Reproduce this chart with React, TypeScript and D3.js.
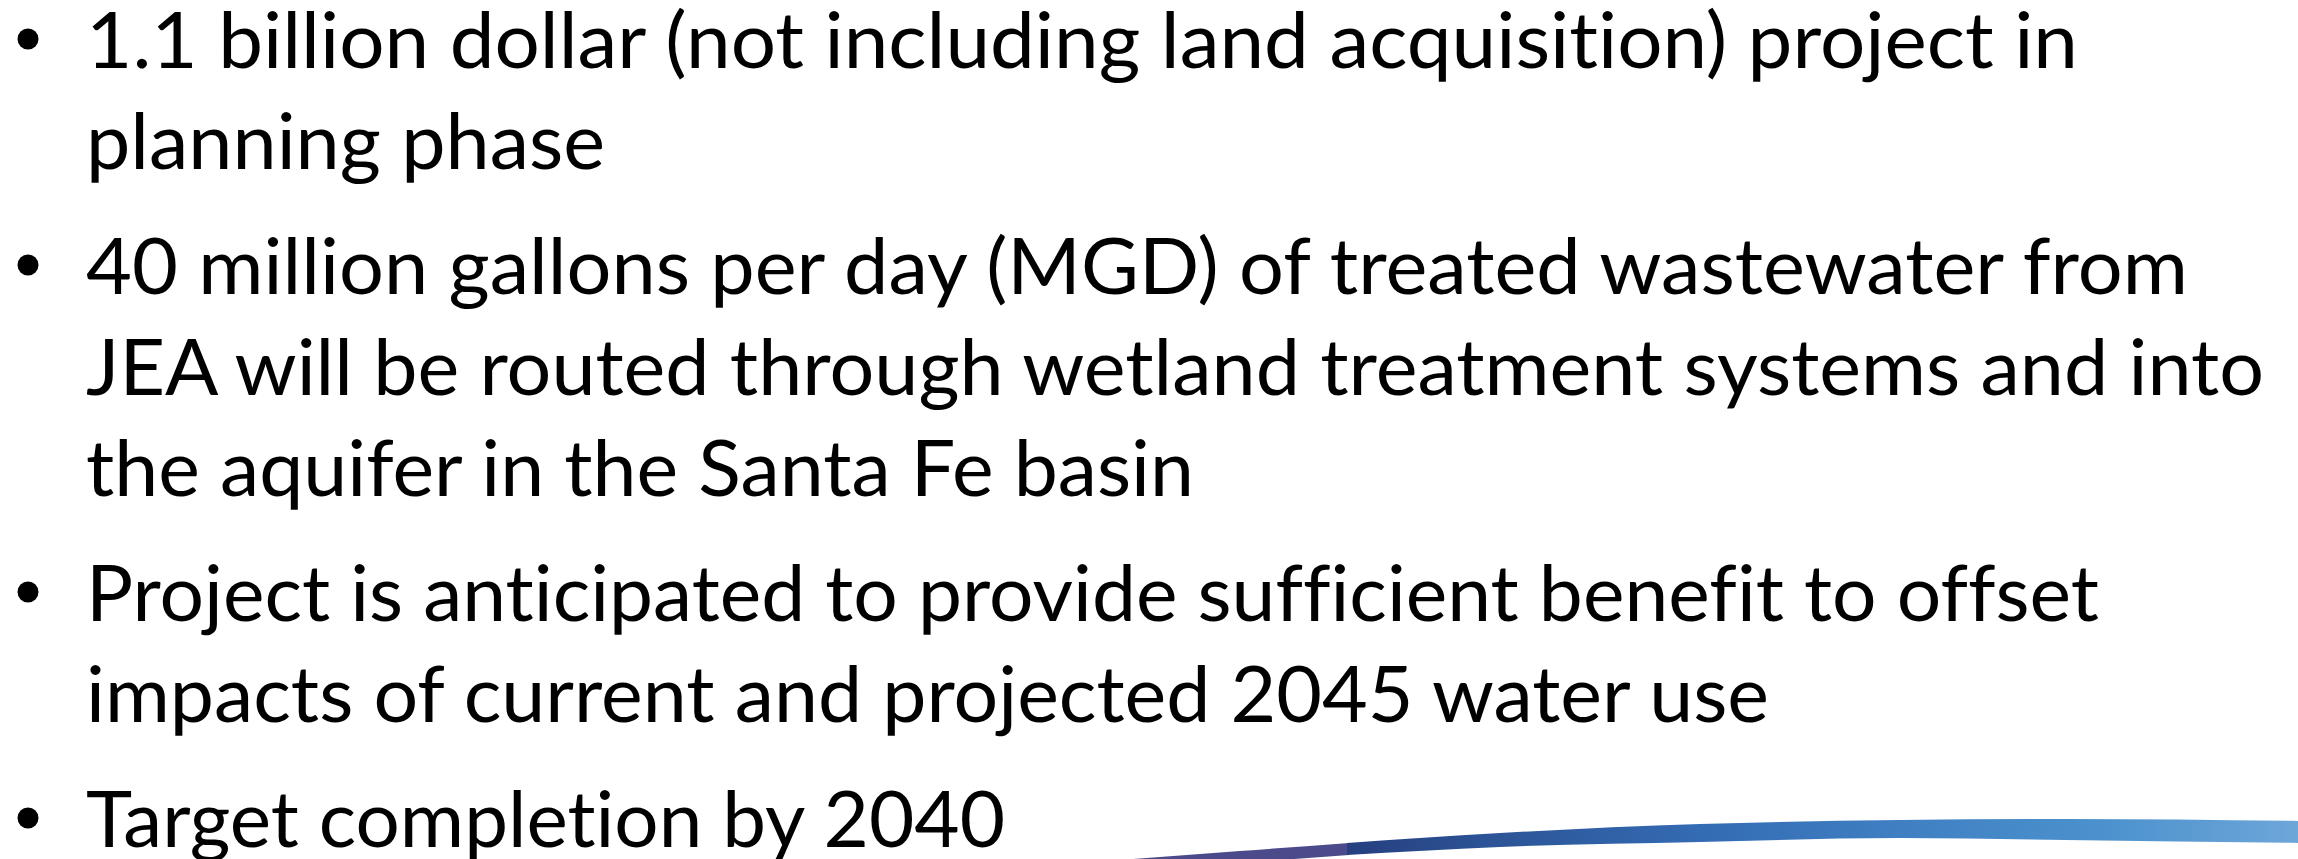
import * as d3 from "d3";

const W = 2298;
const H = 859;

// bullet paragraphs, one entry per wrapped line
const bullets: string[][] = [
  ["1.1 billion dollar (not including land acquisition) project in", "planning phase"],
  [
    "40 million gallons per day (MGD) of treated wastewater from",
    "JEA will be routed through wetland treatment systems and into",
    "the aquifer in the Santa Fe basin",
  ],
  ["Project is anticipated to provide sufficient benefit to offset", "impacts of current and projected 2045 water use"],
  ["Target completion by 2040"],
];
// right end of every line, in the order above
const lineEnds = [2078, 605, 2188, 2264, 1194, 2099, 1769, 1005];

// decorative swoosh at the bottom
const swooshX = [1347, 1500, 1700, 1900, 2065, 2298];
const swooshTop = [843, 833, 824, 820, 819, 821];
const swooshBottom = [855, 847, 842, 838, 840, 843];
const tipX = [1120, 1240, 1349];
const tipTop = [860, 851, 843];
const tipBottom = [872, 863, 855];

const gradStops = [
  [0, "#263f80"],
  [0.16, "#2c5597"],
  [0.37, "#346bb3"],
  [0.58, "#3f7fc2"],
  [0.8, "#4c92cd"],
  [1, "#6ea6d9"],
];

export default function App() {
  const textX = 86;
  const firstBaseline = 68;
  const lineStep = 101;
  const paraGap = 24;
  const fontSize = 77;

  const x = d3.scaleLinear([0, W], [0, W]);
  const y = d3.scaleLinear([0, H], [0, H]);

  const rows: { text: string; y: number; first: boolean }[] = [];
  let cy = firstBaseline;
  bullets.forEach((lines, i) => {
    if (i > 0) cy += paraGap;
    lines.forEach((t, j) => {
      rows.push({ text: t, y: cy, first: j === 0 });
      cy += lineStep;
    });
  });

  const band = (xs: number[], t: number[], b: number[]) =>
    d3
      .area<number>()
      .x((d) => x(d))
      .y0((_, i) => y(t[i]))
      .y1((_, i) => y(b[i]))
      .curve(d3.curveMonotoneX)(xs);

  return (
    <svg
      width={W}
      height={H}
      style={{ position: "absolute", left: 0, top: 0, background: "#fff" }}
    >
      <defs>
        <linearGradient id="swoosh" gradientUnits="userSpaceOnUse" x1={x(1347)} x2={x(W)} y1={0} y2={0}>
          {gradStops.map(([o, c]) => (
            <stop key={o as number} offset={o as number} stopColor={c as string} />
          ))}
        </linearGradient>
      </defs>
      <path d={band(tipX, tipTop, tipBottom) ?? ""} fill="#4b4a8b" />
      <path d={band(swooshX, swooshTop, swooshBottom) ?? ""} fill="url(#swoosh)" />
      <g
        fontFamily="Lato, 'Open Sans', sans-serif"
        fontSize={fontSize}
        fill="#000"
        style={{ fontVariantLigatures: "none", fontFeatureSettings: '"liga" 0' }}
      >
        {rows.map((r, i) => (
          <g key={i}>
            {r.first && <circle cx={28} cy={y(r.y - 29)} r={10.5} fill="#000" />}
            <text
              x={textX}
              y={y(r.y)}
              textLength={lineEnds[i] - textX}
              lengthAdjust="spacingAndGlyphs"
            >
              {r.text}
            </text>
          </g>
        ))}
      </g>
    </svg>
  );
}
